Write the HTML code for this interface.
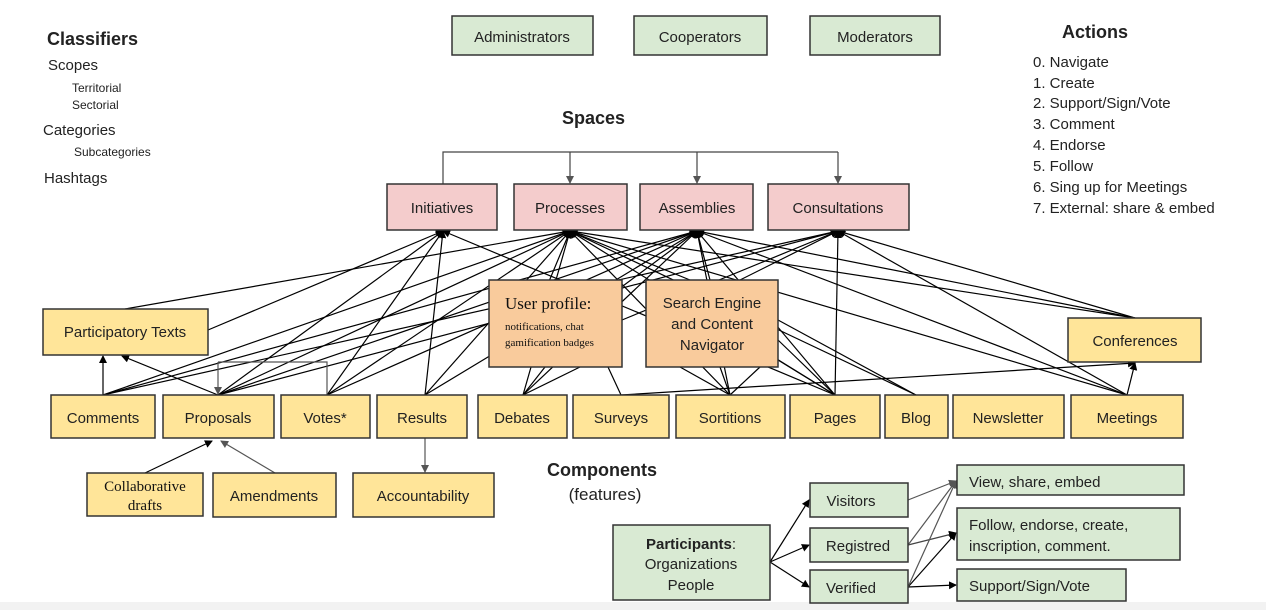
<!DOCTYPE html>
<html><head><meta charset="utf-8"><style>
body{margin:0;width:1266px;height:610px;background:#fff;overflow:hidden;font-family:"Liberation Sans",sans-serif;}
svg{position:absolute;left:0;top:0}
.t{font-family:"Liberation Sans",sans-serif;font-size:15px;fill:#222}
.s{font-family:"Liberation Serif",serif;fill:#111}
</style></head><body>
<div style="position:absolute;left:0;top:602px;width:1266px;height:8px;background:#f2f2f2"></div>
<svg width="1266" height="610" xmlns="http://www.w3.org/2000/svg">
<defs>
<marker id="a" markerWidth="8" markerHeight="8" refX="7" refY="4" orient="auto" markerUnits="userSpaceOnUse"><path d="M0,0 L8,4 L0,8z" fill="#000"/></marker>
<marker id="g" markerWidth="8" markerHeight="8" refX="7" refY="4" orient="auto" markerUnits="userSpaceOnUse"><path d="M0,0 L8,4 L0,8z" fill="#555"/></marker>
</defs>
<g stroke="#000" stroke-width="1.2" fill="none">
<polyline points="443,184 443,152 838,152" stroke="#444"/>
<line x1="570" y1="152" x2="570" y2="183" stroke="#444" marker-end="url(#g)"/>
<line x1="697" y1="152" x2="697" y2="183" stroke="#444" marker-end="url(#g)"/>
<line x1="838" y1="152" x2="838" y2="183" stroke="#444" marker-end="url(#g)"/>
<g marker-end="url(#a)">
<line x1="125" y1="309" x2="570" y2="231"/>
<line x1="208" y1="330" x2="443" y2="231"/>
<line x1="103" y1="395" x2="570" y2="231"/>
<line x1="103" y1="395" x2="697" y2="231"/>
<line x1="103" y1="395" x2="838" y2="231"/>
<line x1="218" y1="395" x2="443" y2="231"/>
<line x1="218" y1="395" x2="570" y2="231"/>
<line x1="218" y1="395" x2="697" y2="231"/>
<line x1="218" y1="395" x2="838" y2="231"/>
<line x1="327" y1="395" x2="443" y2="231"/>
<line x1="327" y1="395" x2="570" y2="231"/>
<line x1="327" y1="395" x2="697" y2="231"/>
<line x1="425" y1="395" x2="443" y2="231"/>
<line x1="425" y1="395" x2="570" y2="231"/>
<line x1="425" y1="395" x2="697" y2="231"/>
<line x1="523" y1="395" x2="570" y2="231"/>
<line x1="523" y1="395" x2="697" y2="231"/>
<line x1="540" y1="303" x2="570" y2="231"/>
<line x1="600" y1="303" x2="697" y2="231"/>
<line x1="622" y1="320" x2="838" y2="231"/>
<line x1="690" y1="280" x2="570" y2="231"/>
<line x1="710" y1="280" x2="697" y2="231"/>
<line x1="740" y1="280" x2="838" y2="231"/>
<line x1="730" y1="395" x2="570" y2="231"/>
<line x1="730" y1="395" x2="697" y2="231"/>
<line x1="835" y1="395" x2="838" y2="231"/>
<line x1="835" y1="395" x2="570" y2="231"/>
<line x1="835" y1="395" x2="697" y2="231"/>
<line x1="835" y1="395" x2="443" y2="231"/>
<line x1="916" y1="395" x2="570" y2="231"/>
<line x1="1127" y1="395" x2="570" y2="231"/>
<line x1="1127" y1="395" x2="697" y2="231"/>
<line x1="1127" y1="395" x2="838" y2="231"/>
<line x1="1135" y1="318" x2="570" y2="231"/>
<line x1="1135" y1="318" x2="697" y2="231"/>
<line x1="1135" y1="318" x2="838" y2="231"/>
<line x1="103" y1="395" x2="103" y2="356"/>
<line x1="218" y1="395" x2="122" y2="356"/>
<line x1="1127" y1="395" x2="1135" y2="363"/>
<line x1="621" y1="395" x2="1135" y2="363"/>
<line x1="145" y1="473" x2="212" y2="441"/>
</g>
<line x1="523" y1="395" x2="545" y2="367"/><line x1="523" y1="395" x2="580" y2="367"/>
<line x1="621" y1="395" x2="608" y2="367"/>
<line x1="730" y1="395" x2="680" y2="367"/><line x1="730" y1="395" x2="720" y2="367"/><line x1="730" y1="395" x2="760" y2="367"/>
<line x1="835" y1="395" x2="778" y2="340"/><line x1="835" y1="395" x2="778" y2="360"/>
<line x1="916" y1="395" x2="778" y2="320"/>
<polyline points="327,395 327,362 218,362" stroke="#555"/>
<line x1="218" y1="362" x2="218" y2="394" stroke="#555" marker-end="url(#g)"/>
<line x1="275" y1="473" x2="221" y2="441" stroke="#555" marker-end="url(#g)"/>
<line x1="425" y1="438" x2="425" y2="472" stroke="#555" marker-end="url(#g)"/>
<g marker-end="url(#a)">
<line x1="770" y1="562" x2="809" y2="500"/>
<line x1="770" y1="562" x2="809" y2="545"/>
<line x1="770" y1="562" x2="809" y2="587"/>
<line x1="908" y1="587" x2="956" y2="585"/>
<line x1="908" y1="587" x2="956" y2="533"/>
<line x1="908" y1="545" x2="956" y2="533" stroke="#444"/>
</g>
<g stroke="#555" marker-end="url(#g)">
<line x1="908" y1="500" x2="956" y2="481"/>
<line x1="908" y1="545" x2="956" y2="481"/>
<line x1="908" y1="587" x2="956" y2="481"/>
</g>
</g>
<g stroke="#333" stroke-width="1.5">
<g fill="#d9ead3">
<rect x="452" y="16" width="141" height="39"/><rect x="634" y="16" width="133" height="39"/><rect x="810" y="16" width="130" height="39"/>
<rect x="613" y="525" width="157" height="75"/>
<rect x="810" y="483" width="98" height="34"/><rect x="810" y="528" width="98" height="34"/><rect x="810" y="570" width="98" height="33"/>
<rect x="957" y="465" width="227" height="30"/><rect x="957" y="508" width="223" height="52"/><rect x="957" y="569" width="169" height="32"/>
</g>
<g fill="#f4cccc">
<rect x="387" y="184" width="110" height="46"/><rect x="514" y="184" width="113" height="46"/><rect x="640" y="184" width="113" height="46"/><rect x="768" y="184" width="141" height="46"/>
</g>
<g fill="#f9cb9c">
<rect x="489" y="280" width="133" height="87"/><rect x="646" y="280" width="132" height="87"/>
</g>
<g fill="#ffe599">
<rect x="43" y="309" width="165" height="46"/><rect x="1068" y="318" width="133" height="44"/>
<rect x="51" y="395" width="104" height="43"/><rect x="163" y="395" width="111" height="43"/><rect x="281" y="395" width="89" height="43"/><rect x="377" y="395" width="90" height="43"/>
<rect x="478" y="395" width="89" height="43"/><rect x="573" y="395" width="96" height="43"/><rect x="676" y="395" width="109" height="43"/><rect x="790" y="395" width="90" height="43"/>
<rect x="885" y="395" width="63" height="43"/><rect x="953" y="395" width="111" height="43"/><rect x="1071" y="395" width="112" height="43"/>
<rect x="87" y="473" width="116" height="43"/><rect x="213" y="473" width="123" height="44"/><rect x="353" y="473" width="141" height="44"/>
</g>
</g>
<g class="t" text-anchor="middle">
<text x="522" y="42">Administrators</text><text x="700" y="42">Cooperators</text><text x="875" y="42">Moderators</text>
<text x="442" y="213">Initiatives</text><text x="570" y="213">Processes</text><text x="697" y="213">Assemblies</text><text x="838" y="213">Consultations</text>
<text x="712" y="308">Search Engine</text><text x="712" y="329">and Content</text><text x="712" y="350">Navigator</text>
<text x="125" y="337">Participatory Texts</text><text x="1135" y="346">Conferences</text>
<text x="103" y="423">Comments</text><text x="218" y="423">Proposals</text><text x="325" y="423">Votes*</text><text x="422" y="423">Results</text>
<text x="522" y="423">Debates</text><text x="621" y="423">Surveys</text><text x="730" y="423">Sortitions</text><text x="835" y="423">Pages</text>
<text x="916" y="423">Blog</text><text x="1008" y="423">Newsletter</text><text x="1127" y="423">Meetings</text>
<text x="274" y="501">Amendments</text><text x="423" y="501">Accountability</text>
<text x="605" y="500" font-size="17">(features)</text>
<text x="691" y="549"><tspan font-weight="bold">Participants</tspan>:</text><text x="691" y="569">Organizations</text><text x="691" y="590">People</text>
<text x="851" y="506">Visitors</text><text x="858" y="551">Registred</text><text x="851" y="593">Verified</text>
</g>
<g class="s" text-anchor="middle">
<text x="145" y="491" font-size="15">Collaborative</text><text x="145" y="510" font-size="15">drafts</text>
</g>
<g class="s">
<text x="505" y="309" font-size="17">User profile:</text>
<text x="505" y="330" font-size="11">notifications, chat</text>
<text x="505" y="346" font-size="11">gamification badges</text>
</g>
<g class="t">
<text x="969" y="487">View, share, embed</text>
<text x="969" y="530">Follow, endorse, create,</text><text x="969" y="551">inscription, comment.</text>
<text x="969" y="591">Support/Sign/Vote</text>
<text x="47" y="45" font-weight="bold" font-size="18">Classifiers</text>
<text x="48" y="70">Scopes</text>
<text x="72" y="92" font-size="12">Territorial</text><text x="72" y="109" font-size="12">Sectorial</text>
<text x="43" y="135">Categories</text>
<text x="74" y="156" font-size="12">Subcategories</text>
<text x="44" y="183">Hashtags</text>
<text x="562" y="124" font-weight="bold" font-size="18">Spaces</text>
<text x="547" y="476" font-weight="bold" font-size="18">Components</text>
<text x="1062" y="38" font-weight="bold" font-size="18">Actions</text>
<text x="1033" y="67">0. Navigate</text><text x="1033" y="88">1. Create</text><text x="1033" y="108">2. Support/Sign/Vote</text>
<text x="1033" y="129">3. Comment</text><text x="1033" y="150">4. Endorse</text><text x="1033" y="171">5. Follow</text>
<text x="1033" y="192">6. Sing up  for Meetings</text><text x="1033" y="213">7. External: share &amp; embed</text>
</g>
</svg>
</body></html>
